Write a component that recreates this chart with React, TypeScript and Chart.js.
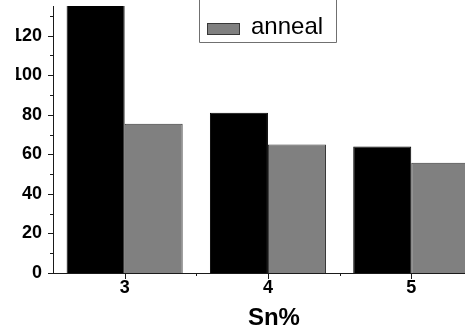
import { useEffect, useRef } from 'react';
import { Chart, registerables } from 'chart.js';

Chart.register(...registerables);

// ---- data ----
const categories = [3, 4, 5];
const xTickLabels = ['3', '4', '5'];
const xMinorTicks = [3.5, 4.5];
const seriesALabel = '';
const seriesA = [140, 81, 64];
const seriesBLabel = 'anneal';
const seriesB = [75.5, 65, 55.8];
const yTickValues = [0, 20, 40, 60, 80, 100, 120];
const yMinorTicks = [10, 30, 50, 70, 90, 110, 130];
const xTitle = 'Sn%';

const FONT = '"Liberation Sans", Arial, Helvetica, sans-serif';
const AXIS_COLOR = '#1a1a1a';
const OFFSET_X = 16;

const decorPlugin = {
  id: 'decor',
  afterDraw(chart: any) {
    const ctx = chart.ctx as CanvasRenderingContext2D;
    const xs = chart.scales.x;
    const ys = chart.scales.y;
    const { left, bottom } = chart.chartArea;
    ctx.save();
    // tick marks
    ctx.strokeStyle = AXIS_COLOR;
    ctx.lineWidth = 1;
    ctx.beginPath();
    yTickValues.forEach((v) => {
      const py = Math.round(ys.getPixelForValue(v)) + 0.5;
      ctx.moveTo(left - 5, py);
      ctx.lineTo(left, py);
    });
    yMinorTicks.forEach((v) => {
      const py = Math.round(ys.getPixelForValue(v)) + 0.5;
      ctx.moveTo(left - 3, py);
      ctx.lineTo(left, py);
    });
    categories.forEach((v) => {
      const px = Math.round(xs.getPixelForValue(v)) + 0.5;
      ctx.moveTo(px, bottom);
      ctx.lineTo(px, bottom + 6);
    });
    xMinorTicks.forEach((v) => {
      const px = Math.round(xs.getPixelForValue(v)) + 0.5;
      ctx.moveTo(px, bottom);
      ctx.lineTo(px, bottom + 3);
    });
    ctx.stroke();

    // axis title
    ctx.fillStyle = '#000';
    ctx.font = `bold 24px ${FONT}`;
    ctx.textAlign = 'center';
    ctx.textBaseline = 'alphabetic';
    const mid = (categories[0] + categories[categories.length - 1]) / 2;
    ctx.fillText(xTitle, xs.getPixelForValue(mid) + 6, bottom + 52);

    // legend (box top lies above the visible canvas)
    const dx = 16 - OFFSET_X;
    const boxL = 183.5 + dx, boxR = 320.5 + dx, boxB = 42.5, boxT = -20;
    ctx.strokeStyle = '#707070';
    ctx.lineWidth = 1;
    ctx.beginPath();
    ctx.moveTo(boxL, boxT);
    ctx.lineTo(boxL, boxB);
    ctx.lineTo(boxR, boxB);
    ctx.lineTo(boxR, boxT);
    ctx.stroke();
    const entries = chart.data.datasets.filter((d: any) => d.label);
    entries.forEach((d: any, i: number) => {
      const base = 34 - (entries.length - 1 - i) * 28;
      ctx.fillStyle = d.backgroundColor;
      ctx.fillRect(191 + dx, base - 11, 33, 12);
      ctx.strokeStyle = d.borderColor;
      ctx.strokeRect(191.5 + dx, base - 10.5, 32, 11);
      ctx.fillStyle = '#000';
      ctx.font = `24px ${FONT}`;
      ctx.textAlign = 'left';
      ctx.fillText(d.label, 235 + dx, base);
    });
    ctx.restore();
  },
};

export default function App() {
  const ref = useRef<HTMLCanvasElement>(null);
  useEffect(() => {
    if (!ref.current) return;
    const chart = new Chart(ref.current, {
      type: 'bar',
      data: {
        datasets: [
          {
            label: seriesALabel,
            data: categories.map((c, i) => ({ x: c, y: seriesA[i] })),
            backgroundColor: '#000000',
            borderColor: '#000000',
            borderWidth: 1,
            clip: 0,
          },
          {
            label: seriesBLabel,
            data: categories.map((c, i) => ({ x: c, y: seriesB[i] })),
            backgroundColor: '#808080',
            borderColor: '#383838',
            borderWidth: 1,
            clip: 0,
          },
        ],
      } as any,
      options: {
        animation: false,
        responsive: false,
        maintainAspectRatio: false,
        categoryPercentage: 0.81,
        barPercentage: 1,
        layout: { padding: { top: 6, left: 0, right: 0, bottom: 0 } },
        plugins: { legend: { display: false }, tooltip: { enabled: false } },
        scales: {
          x: {
            type: 'linear',
            offset: false,
            min: 2.5,
            max: 5.375,
            grid: { display: false, drawTicks: false, offset: false },
            border: { display: true, color: AXIS_COLOR, width: 1 },
            afterBuildTicks: (s: any) => {
              s.ticks = categories.map((v) => ({ value: v }));
            },
            afterFit: (s: any) => {
              s.height = 59;
              s.paddingLeft = 0;
              s.paddingRight = 0;
            },
            ticks: {
              autoSkip: false,
              maxRotation: 0,
              padding: 6,
              color: '#000',
              font: { family: FONT, size: 18, weight: 'bold', lineHeight: 1 },
              callback: (v: any) => {
                const i = categories.indexOf(Number(v));
                return i >= 0 ? xTickLabels[i] : '';
              },
            },
          },
          y: {
            type: 'linear',
            min: 0,
            max: 135,
            grid: { display: false, drawTicks: false },
            border: { display: true, color: AXIS_COLOR, width: 1 },
            afterBuildTicks: (s: any) => {
              s.ticks = yTickValues.map((v) => ({ value: v }));
            },
            afterFit: (s: any) => {
              s.width = 53 - OFFSET_X;
              s.paddingTop = 0;
              s.paddingBottom = 0;
            },
            ticks: {
              autoSkip: false,
              padding: 11,
              color: '#000',
              font: { family: FONT, size: 18, weight: 'bold' },
            },
          },
        },
      } as any,
      plugins: [decorPlugin],
    });
    return () => chart.destroy();
  }, []);
  return (
    <div style={{ position: 'fixed', left: OFFSET_X, top: 0, width: 465 - OFFSET_X, height: 332, background: '#fff' }}>
      <canvas ref={ref} width={465 - OFFSET_X} height={332} style={{ display: 'block' }} />
    </div>
  );
}
